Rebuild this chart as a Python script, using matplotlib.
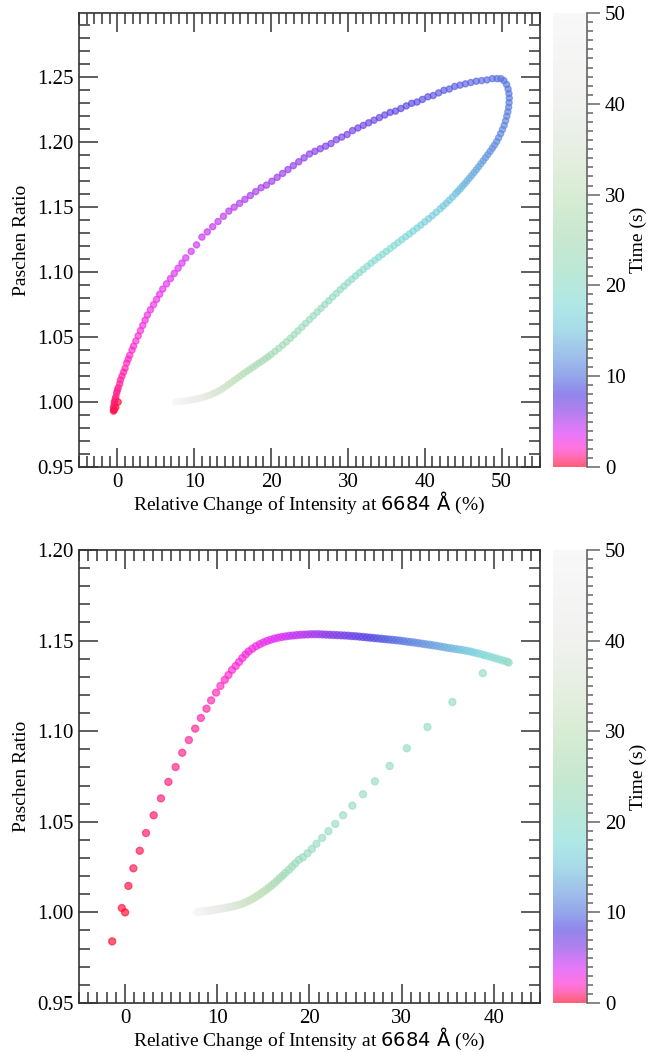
import numpy as np
import matplotlib
matplotlib.use("Agg")
import matplotlib.pyplot as plt
from matplotlib.colors import LinearSegmentedColormap
from matplotlib.ticker import MultipleLocator

# --- data ---

# top panel: one loop through time (x = relative change at 6684 A in %, y = Paschen ratio, t = time in s)
top_x = [
    # start and rising branch
    0.1, -0.2, -0.4, -0.5, -0.5, -0.5, -0.4, -0.4, -0.3, -0.2,
    -0.1, 0.0, 0.1, 0.3, 0.4, 0.6, 0.8, 1.0, 1.2, 1.4,
    1.6, 1.9, 2.1, 2.4, 2.7, 3.0, 3.3, 3.6, 3.9, 4.3,
    4.7, 5.1, 5.5, 5.9, 6.4, 6.9, 7.4, 7.9, 8.4, 8.9,
    9.6, 10.3, 11.0, 11.7, 12.4, 13.1, 13.8, 14.5, 15.2, 15.9,
    16.6, 17.3, 18.0, 18.7, 19.4, 20.1, 20.8, 21.5, 22.2, 22.9,
    23.6, 24.3, 25.0, 25.7, 26.4, 27.1, 27.8, 28.5, 29.2, 29.9,
    30.6, 31.3, 32.0, 32.7, 33.4, 34.1, 34.8, 35.5, 36.2, 36.9,
    37.6, 38.3, 39.0, 39.7, 40.4, 41.1, 41.8, 42.5, 43.2, 43.9,
    44.6, 45.3, 46.0, 46.7, 47.4, 48.1, 48.8, 49.4, 49.9,
    # turn at the right
    50.3, 50.65, 50.85, 50.96, 51.0, 50.98, 50.92, 50.82, 50.68, 50.52,
    50.34, 50.12, 49.88, 49.62, 49.36, 49.08,
    # falling branch
    48.8, 48.5, 48.2, 47.9, 47.6, 47.3, 47.0, 46.7, 46.4, 46.1,
    45.8, 45.5, 45.2, 44.9, 44.6, 44.3, 44.0, 43.6, 43.2, 42.8,
    42.4, 42.0, 41.5, 41.0, 40.5, 40.0, 39.5, 39.0, 38.5, 38.0,
    37.5, 37.0, 36.5, 36.0, 35.5, 35.0, 34.5, 34.0, 33.5, 33.0,
    32.5, 32.0, 31.5, 31.0, 30.5, 30.0, 29.5, 29.0, 28.5, 28.0,
    27.5, 27.0, 26.5, 26.0, 25.5, 25.0, 24.5, 24.0, 23.5, 23.0,
    22.5, 22.0, 21.5, 21.0, 20.5, 20.0,
    # slow tail
    19.6, 19.2, 18.8, 18.4, 18.0, 17.6, 17.2, 16.8, 16.4, 16.0,
    15.6, 15.2, 14.8, 14.4, 14.0, 13.6, 13.2, 12.8, 12.4, 12.0,
    11.6, 11.2, 10.8, 10.4, 10.0, 9.6, 9.2, 8.8, 8.4, 8.0,
    7.6,
]
top_y = [
    1.000, 0.996, 0.994, 0.993, 0.994, 0.996, 0.998, 1.000, 1.002, 1.004,
    1.007, 1.009, 1.011, 1.014, 1.017, 1.020, 1.023, 1.026, 1.030, 1.033,
    1.036, 1.040, 1.043, 1.047, 1.051, 1.055, 1.059, 1.063, 1.067, 1.071,
    1.075, 1.079, 1.083, 1.087, 1.091, 1.095, 1.099, 1.103, 1.107, 1.111,
    1.116, 1.121, 1.127, 1.131, 1.135, 1.139, 1.143, 1.147, 1.150, 1.153,
    1.156, 1.159, 1.162, 1.165, 1.167, 1.170, 1.173, 1.176, 1.179, 1.182,
    1.185, 1.188, 1.191, 1.193, 1.195, 1.197, 1.199, 1.202, 1.204, 1.206,
    1.209, 1.211, 1.213, 1.215, 1.217, 1.219, 1.221, 1.223, 1.224, 1.226,
    1.228, 1.230, 1.231, 1.233, 1.235, 1.236, 1.238, 1.240, 1.241, 1.243,
    1.244, 1.245, 1.246, 1.247, 1.2475, 1.248, 1.249, 1.249, 1.249,
    1.2475, 1.2445, 1.241, 1.2375, 1.234, 1.2305, 1.227, 1.2235, 1.220, 1.2165,
    1.213, 1.2098, 1.2066, 1.2035, 1.2005, 1.1978,
    1.1954, 1.1929, 1.1905, 1.1881, 1.1857, 1.1834, 1.1811, 1.1788, 1.1766, 1.1744,
    1.1723, 1.1702, 1.1681, 1.1661, 1.1641, 1.1622, 1.1603, 1.1578, 1.1554, 1.1531,
    1.1509, 1.1487, 1.1461, 1.1435, 1.1411, 1.1387, 1.1363, 1.1340, 1.1317, 1.1294,
    1.1272, 1.1250, 1.1227, 1.1205, 1.1182, 1.1160, 1.1137, 1.1115, 1.1092, 1.1069,
    1.1045, 1.1021, 1.0996, 1.0971, 1.0945, 1.0919, 1.0892, 1.0865, 1.0837, 1.0809,
    1.0780, 1.0751, 1.0722, 1.0693, 1.0664, 1.0635, 1.0606, 1.0577, 1.0548, 1.0519,
    1.0491, 1.0464, 1.0438, 1.0413, 1.0389, 1.0366,
    1.0348, 1.0331, 1.0315, 1.0299, 1.0283, 1.0267, 1.0251, 1.0235, 1.0218, 1.0201,
    1.0184, 1.0167, 1.0150, 1.0133, 1.0116, 1.0100, 1.0086, 1.0074, 1.0063, 1.0053,
    1.0045, 1.0037, 1.0030, 1.0025, 1.0020, 1.0016, 1.0012, 1.0009, 1.0006, 1.0004,
    1.0002,
]
top_t = [
    0.0, 0.1, 0.2, 0.3, 0.4, 0.5, 0.6, 0.7, 0.8, 0.9,
    1.0, 1.1, 1.2, 1.3, 1.4, 1.5, 1.6, 1.7, 1.8, 1.9,
    2.0, 2.1, 2.2, 2.3, 2.4, 2.5, 2.6, 2.7, 2.8, 2.9,
    3.0, 3.1, 3.2, 3.3, 3.4, 3.5, 3.6, 3.7, 3.8, 3.9,
    4.0, 4.1, 4.2, 4.3, 4.4, 4.5, 4.6, 4.7, 4.8, 4.9,
    5.0, 5.1, 5.2, 5.3, 5.4, 5.5, 5.6, 5.7, 5.8, 5.9,
    6.0, 6.1, 6.2, 6.3, 6.4, 6.5, 6.6, 6.7, 6.8, 6.9,
    7.0, 7.1, 7.2, 7.3, 7.4, 7.5, 7.6, 7.7, 7.8, 7.9,
    8.0, 8.1, 8.2, 8.3, 8.4, 8.5, 8.6, 8.7, 8.8, 8.9,
    9.0, 9.1, 9.2, 9.3, 9.4, 9.5, 9.6, 9.7, 9.8,
    9.9, 10.0, 10.1, 10.2, 10.3, 10.4, 10.5, 10.6, 10.7, 10.8,
    10.9, 11.0, 11.1, 11.2, 11.3, 11.4,
    11.5, 11.7, 11.9, 12.1, 12.3, 12.5, 12.7, 12.9, 13.1, 13.3,
    13.5, 13.7, 13.9, 14.1, 14.3, 14.5, 14.7, 14.9, 15.1, 15.3,
    15.5, 15.7, 15.9, 16.1, 16.3, 16.5, 16.7, 16.9, 17.1, 17.3,
    17.5, 17.7, 17.9, 18.1, 18.3, 18.5, 18.7, 18.9, 19.1, 19.3,
    19.5, 19.7, 19.9, 20.1, 20.3, 20.5, 20.7, 20.9, 21.1, 21.3,
    21.5, 21.7, 21.9, 22.1, 22.3, 22.5, 22.7, 22.9, 23.1, 23.3,
    23.5, 23.7, 23.9, 24.1, 24.3, 24.5,
    24.8, 25.1, 25.5, 25.9, 26.3, 26.8, 27.3, 27.8, 28.3, 28.8,
    29.4, 30.0, 30.7, 31.4, 32.1, 32.9, 33.7, 34.6, 35.5, 36.5,
    37.5, 38.5, 39.6, 40.7, 41.8, 43.0, 44.2, 45.4, 46.7, 48.3,
    50.0,
]

# bottom panel
bot_x = [
    # fast start
    0.0, -1.4, -0.36, 0.36, 0.90, 1.59, 2.27, 3.10, 3.89, 4.70,
    5.48, 6.20, 6.92, 7.60, 8.22, 8.83, 9.33, 9.87, 10.34, 10.81,
    11.21, 11.60, 12.00, 12.36, 12.72, 13.08,
    # upper band
    13.4, 13.8, 14.2, 14.6, 15.0, 15.4, 15.8, 16.2, 16.6, 17.0,
    17.4, 17.8, 18.2, 18.6, 19.0, 19.4, 19.8, 20.2, 20.6, 21.0,
    21.4, 21.8, 22.2, 22.6, 23.0, 23.4, 23.8, 24.2, 24.6, 25.0,
    25.4, 25.8, 26.2, 26.6, 27.0, 27.4, 27.8, 28.2, 28.6, 29.0,
    29.4, 29.8, 30.2, 30.6, 31.0, 31.4, 31.8, 32.2, 32.6, 33.0,
    33.4, 33.8, 34.2, 34.6, 35.0, 35.4, 35.8, 36.2, 36.6, 37.0,
    37.4, 37.8, 38.2, 38.6, 39.0, 39.4, 39.8, 40.2, 40.6, 41.0,
    41.4, 41.6,
    # sparse return
    38.8, 35.5, 32.8, 30.56, 28.7, 27.1, 25.8, 24.65, 23.64, 22.8,
    22.05, 21.37, 20.76, 20.25, 19.78, 19.28,
    # slow tail
    18.85, 18.45, 18.10, 17.75, 17.40, 17.10, 16.80, 16.50, 16.20, 15.90,
    15.60, 15.30, 15.00, 14.70, 14.40, 14.10, 13.80, 13.50, 13.20, 12.90,
    12.60, 12.30, 12.00, 11.70, 11.40, 11.10, 10.80, 10.50, 10.20, 9.90,
    9.60, 9.30, 9.00, 8.70, 8.40, 8.10, 7.80,
]
bot_y = [
    1.000, 0.984, 1.0024, 1.0146, 1.0243, 1.0340, 1.0438, 1.0536, 1.0629, 1.0720,
    1.0802, 1.0881, 1.0951, 1.1014, 1.1073, 1.1124, 1.1170, 1.1213, 1.1250, 1.1283,
    1.1310, 1.1338, 1.1360, 1.1382, 1.1404, 1.1424,
    1.1440, 1.1455, 1.1469, 1.1480, 1.1490, 1.1498, 1.1505, 1.1511, 1.1516, 1.1520,
    1.1523, 1.1526, 1.1528, 1.1530, 1.1532, 1.1533, 1.1534, 1.1535, 1.1535, 1.1535,
    1.1534, 1.1533, 1.1532, 1.1531, 1.1530, 1.1529, 1.1528, 1.1527, 1.1525, 1.1524,
    1.1522, 1.1520, 1.1518, 1.1516, 1.1514, 1.1512, 1.1510, 1.1508, 1.1506, 1.1504,
    1.1502, 1.1500, 1.1497, 1.1494, 1.1492, 1.1489, 1.1486, 1.1483, 1.1480, 1.1477,
    1.1474, 1.1471, 1.1467, 1.1464, 1.1460, 1.1457, 1.1454, 1.1451, 1.1448, 1.1444,
    1.1440, 1.1435, 1.1430, 1.1425, 1.1419, 1.1414, 1.1408, 1.1402, 1.1396, 1.1390,
    1.1384, 1.1379,
    1.1320, 1.1161, 1.1023, 1.0906, 1.0808, 1.0723, 1.0652, 1.0589, 1.0536, 1.0488,
    1.0448, 1.0411, 1.0379, 1.0350, 1.0326, 1.0304,
    1.0290, 1.0270, 1.0252, 1.0235, 1.0218, 1.0203, 1.0190, 1.0176, 1.0162, 1.0149,
    1.0137, 1.0125, 1.0114, 1.0103, 1.0093, 1.0083, 1.0074, 1.0066, 1.0059, 1.0052,
    1.0046, 1.0041, 1.0037, 1.0033, 1.0030, 1.0027, 1.0024, 1.0021, 1.0019, 1.0016,
    1.0013, 1.0011, 1.0009, 1.0007, 1.0005, 1.0003, 1.0002,
]
bot_t = [
    0.0, 0.1, 0.2, 0.3, 0.4, 0.5, 0.6, 0.7, 0.8, 0.9,
    1.0, 1.1, 1.2, 1.3, 1.4, 1.5, 1.6, 1.7, 1.8, 1.9,
    2.0, 2.1, 2.2, 2.3, 2.4, 2.5,
    2.6, 2.7, 2.85, 3.0, 3.1, 3.25, 3.4, 3.5, 3.65, 3.8,
    3.95, 4.15, 4.3, 4.5, 4.65, 4.85, 5.0, 5.2, 5.4, 5.55,
    5.75, 5.9, 6.1, 6.3, 6.45, 6.65, 6.8, 7.0, 7.2, 7.35,
    7.55, 7.7, 7.9, 8.1, 8.25, 8.45, 8.6, 8.85, 9.1, 9.4,
    9.65, 9.9, 10.2, 10.45, 10.7, 10.95, 11.2, 11.5, 11.75, 12.0,
    12.3, 12.6, 12.9, 13.2, 13.5, 13.8, 14.1, 14.4, 14.7, 15.0,
    15.5, 16.0, 16.5, 17.0, 17.5, 18.0, 18.5, 19.0, 19.4, 19.8,
    20.2, 20.5,
    20.6, 20.7, 20.8, 20.9, 21.0, 21.1, 21.2, 21.3, 21.4, 21.5,
    21.6, 21.7, 21.8, 21.9, 22.0, 22.1,
    22.4, 22.8, 23.2, 23.6, 24.0, 24.5, 25.0, 25.5, 26.0, 26.6,
    27.2, 27.8, 28.4, 29.0, 29.6, 30.2, 30.8, 31.5, 32.2, 32.9,
    33.6, 34.3, 35.0, 35.8, 36.6, 37.4, 38.2, 39.0, 39.9, 40.8,
    41.7, 42.7, 43.7, 44.8, 46.0, 47.5, 50.0,
]

# colour scale for time (s)
cmap_t = [0, 1, 2, 3.5, 6, 8, 10, 12, 15, 18, 21, 25, 30, 35, 40, 50]
cmap_colors = ['#ff0a2e', '#ff1f8a', '#ff2ad0', '#e030f5', '#8a3ae8', '#5545e2',
               '#5a78e0', '#6a9be0', '#78c8e0', '#86dcd8', '#96dcc4', '#a9dcb6',
               '#c4e2be', '#dae6d4', '#e9ebe8', '#f5f5f5']

plt.rcParams['font.family'] = 'serif'
plt.rcParams['font.serif'] = ['Liberation Serif', 'DejaVu Serif']
plt.rcParams['mathtext.fontset'] = 'dejavusans'
plt.rcParams['font.size'] = 14

cmap = LinearSegmentedColormap.from_list(
    'paschen', [(v / 50.0, c) for v, c in zip(cmap_t, cmap_colors)])

ink = '#333333'


def draw_panel(ax, cax, x, y, t, size, xlim, ylim, xticks, yticks):
    sc = ax.scatter(x, y, c=t, cmap=cmap, vmin=0, vmax=50, s=size,
                    alpha=0.65, linewidths=0.9)
    ax.set_xlim(*xlim)
    ax.set_ylim(*ylim)
    ax.set_xticks(xticks)
    ax.set_yticks(yticks)
    ax.yaxis.set_major_formatter(plt.FormatStrFormatter('%.2f'))
    ax.xaxis.set_minor_locator(MultipleLocator(1))
    ax.yaxis.set_minor_locator(MultipleLocator(0.01))
    ax.tick_params(which='both', direction='in', top=True, right=True,
                   color=ink, width=1.1, pad=4, labelsize=15)
    ax.tick_params(which='major', length=14)
    ax.tick_params(which='minor', length=8)
    for sp in ax.spines.values():
        sp.set_color(ink)
        sp.set_linewidth(1.2)
    ax.set_xlabel('Relative Change of Intensity at $\\mathrm{6684\\ \\AA}$ (%)',
                  labelpad=-1)
    ax.set_ylabel('Paschen Ratio', labelpad=5)

    cb = fig.colorbar(sc, cax=cax)
    cb.outline.set_visible(False)
    cax.plot([1, 1], [0, 1], transform=cax.transAxes, color='0.4', lw=1.2,
             clip_on=False)
    cb.set_ticks(range(0, 51, 10))
    cax.yaxis.set_minor_locator(MultipleLocator(1))
    cax.tick_params(which='both', direction='out', color='0.4', width=1.1,
                    labelsize=15)
    cax.tick_params(which='major', length=9, pad=4)
    cax.tick_params(which='minor', length=4)
    cb.set_label('Time (s)', labelpad=3)


fig = plt.figure(figsize=(6.48, 10.52), dpi=100)
ax1 = fig.add_axes([0.1219, 0.5561, 0.7114, 0.4315])
cax1 = fig.add_axes([0.8534, 0.5561, 0.0525, 0.4315])
ax2 = fig.add_axes([0.1219, 0.0466, 0.7114, 0.4306])
cax2 = fig.add_axes([0.8534, 0.0466, 0.0525, 0.4306])

draw_panel(ax1, cax1, top_x, top_y, top_t, 20, (-5, 55), (0.95, 1.2995),
           range(0, 51, 10), np.arange(0.95, 1.26, 0.05))
draw_panel(ax2, cax2, bot_x, bot_y, bot_t, 26, (-5, 45), (0.95, 1.20),
           range(0, 41, 10), np.arange(0.95, 1.21, 0.05))

fig.savefig('out.png', dpi=100)
